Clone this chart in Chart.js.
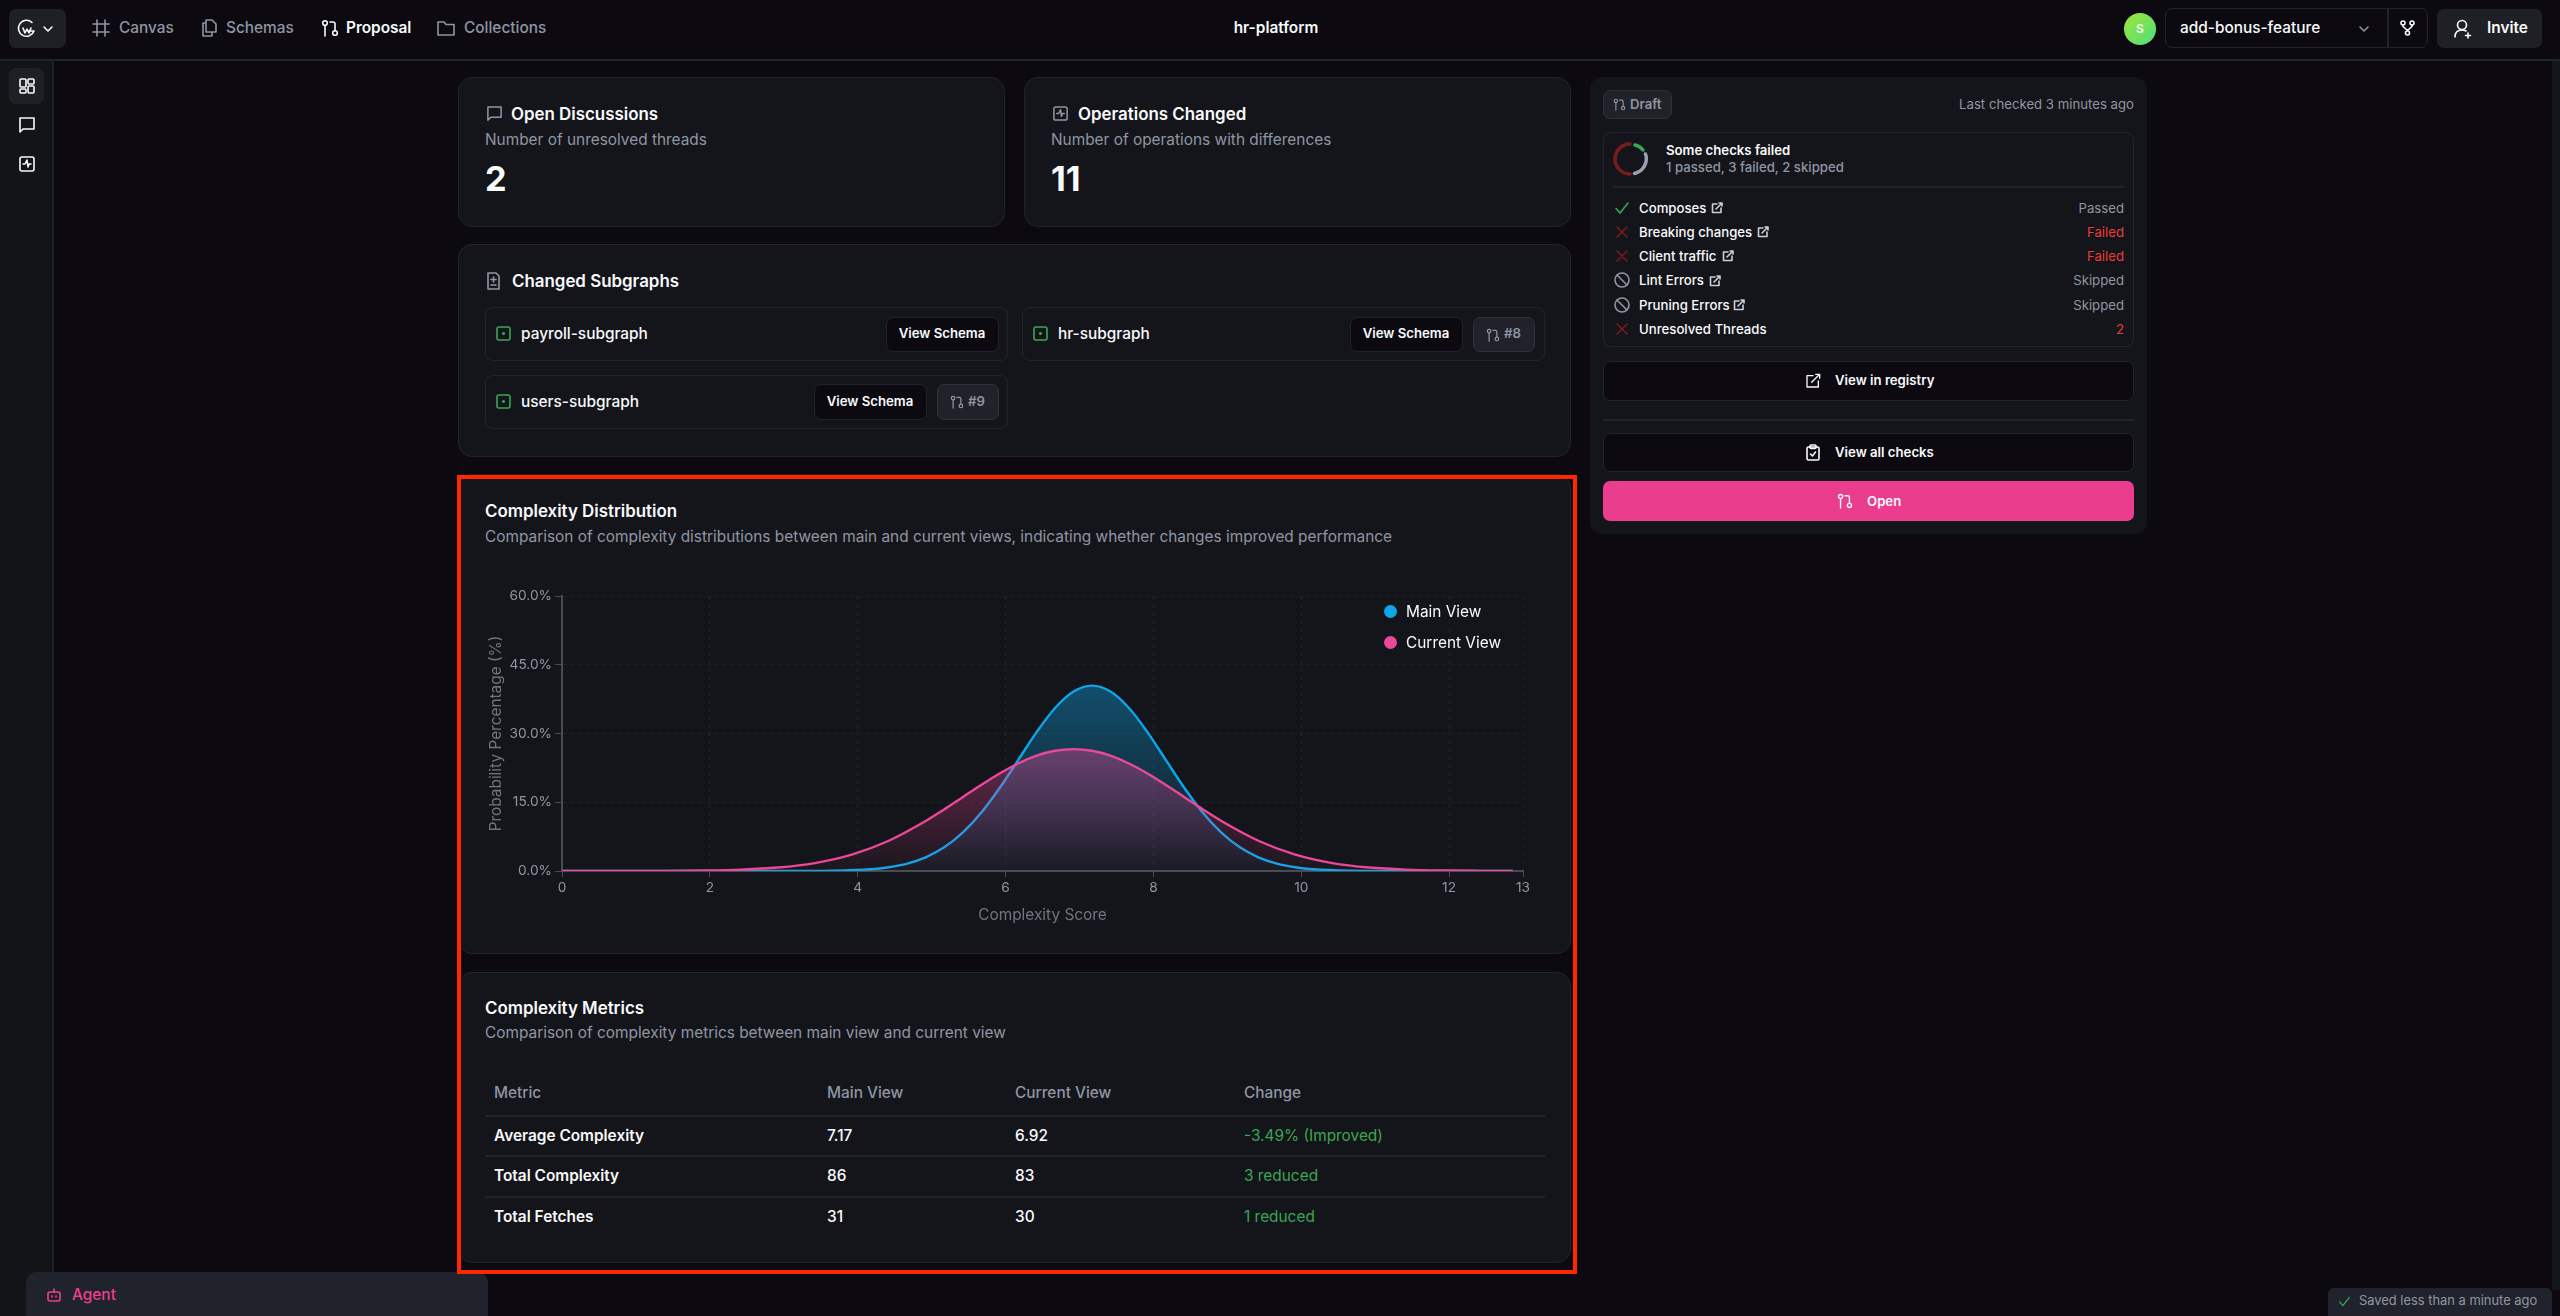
<!DOCTYPE html>
<html>
<head>
<meta charset="utf-8">
<title>hr-platform</title>
<script src="https://cdn.jsdelivr.net/npm/chart.js@4"></script>
<style>
  html, body { margin: 0; padding: 0; background: #0c0a10; }
  body { width: 2560px; height: 1316px; position: relative; overflow: hidden; font-family: Inter, sans-serif; color: #f8fafc; font-size: 15.4px; }
  .abs { position: absolute; }
  .t { position: absolute; white-space: nowrap; transform: translateY(-50%); line-height: 1.2; }
  .r { transform: translate(-100%, -50%); }
  .c { transform: translate(-50%, -50%); }
  .card { position: absolute; background: #14151a; border: 1.5px solid #1e2530; border-radius: 14px; box-sizing: border-box; }
  .box { position: absolute; border: 1.5px solid #1e2530; border-radius: 8px; box-sizing: border-box; }
  .btn { position: absolute; background: #0c0a10; border: 1.5px solid #1e2530; border-radius: 7px; box-sizing: border-box; }
  .badge { position: absolute; background: #212229; border: 1.5px solid #2f3038; border-radius: 7px; box-sizing: border-box; }
  .line { position: absolute; height: 1.5px; background: #1e2530; }
  .b6 { font-weight: 600; }
  .b5 { font-weight: 500; }
  .muted { color: #8f95a3; }
  .h { font-size: 16.9px; font-weight: 600; }
  .sm { font-size: 13.2px; margin-top: 1px; }
  .fail { color: #ef3a3a; }
  .ok { color: #3aa655; }
  svg { position: absolute; fill: none; stroke: currentColor; stroke-width: 1.6; stroke-linecap: round; stroke-linejoin: round; }
</style>
</head>
<body>

<!-- top bar and side rail -->
<div class="abs" style="left:0;top:60px;width:52px;height:1256px;background:#131418"></div>
<div class="abs" style="left:2552px;top:60px;width:8px;height:1230px;background:#15151c"></div>
<div class="abs" style="left:0;top:59px;width:2560px;height:1.5px;background:#1e2530"></div>
<div class="abs" style="left:52px;top:59px;width:1.5px;height:1257px;background:#1a1f29"></div>
<div class="abs" style="left:9px;top:9px;width:57px;height:39px;background:#1f2026;border-radius:7px"></div>
<svg style="left:16px;top:18px;color:#f8fafc" width="21" height="21" viewBox="0 0 21 21"><path d="M16 4.5A8 8 0 1 0 18 13h-6"/><path d="M7 10l2 5 2-4 2 4 2-5"/></svg>
<svg style="left:42px;top:24px;color:#f8fafc" width="12" height="10" viewBox="0 0 12 10"><path d="M2 3l4 4 4-4"/></svg>

<svg style="left:92px;top:19px;color:#8f95a3" width="18" height="18" viewBox="0 0 18 18"><path d="M5 1v16M13 1v16M1 5h16M1 13h16"/></svg>
<div class="t b5 muted" style="left:119px;top:28px">Canvas</div>
<svg style="left:200px;top:19px;color:#8f95a3" width="18" height="18" viewBox="0 0 18 18"><path d="M6 1h6l4 4v8H6zM6 4H3v13h9v-4"/></svg>
<div class="t b5 muted" style="left:226px;top:28px">Schemas</div>
<svg style="left:321px;top:19px;color:#f8fafc" width="18" height="18" viewBox="0 0 18 18"><circle cx="4" cy="4" r="2.3"/><circle cx="14" cy="14" r="2.3"/><path d="M4 6.5V17M9 3h3a2 2 0 0 1 2 2v6.5"/></svg>
<div class="t b6" style="left:346px;top:28px">Proposal</div>
<svg style="left:437px;top:19px;color:#8f95a3" width="18" height="18" viewBox="0 0 18 18"><path d="M1 3h6l2 2.5h8V16H1z"/></svg>
<div class="t b5 muted" style="left:464px;top:28px">Collections</div>

<div class="t c b6" style="left:1276px;top:28px">hr-platform</div>

<div class="abs" style="left:2124px;top:13px;width:32px;height:32px;border-radius:50%;background:linear-gradient(135deg,#a3e635,#4ade80)"></div>
<div class="t c b6" style="left:2140px;top:29px;font-size:12px;color:#f8fafc">S</div>
<div class="btn" style="left:2165px;top:8px;width:263px;height:40px;background:transparent"></div>
<div class="abs" style="left:2387px;top:8px;width:1.5px;height:40px;background:#1e2530"></div>
<div class="t b5" style="left:2180px;top:28px">add-bonus-feature</div>
<svg style="left:2358px;top:24px;color:#8f95a3" width="12" height="10" viewBox="0 0 12 10"><path d="M2 3l4 4 4-4"/></svg>
<svg style="left:2399px;top:19px;color:#f8fafc" width="17" height="18" viewBox="0 0 17 18"><circle cx="4" cy="4" r="2"/><circle cx="13" cy="4" r="2"/><circle cx="8.5" cy="14" r="2"/><path d="M4 6v1.5l4.5 4M13 6v1.5l-4.500 4"/></svg>
<div class="abs" style="left:2437px;top:9px;width:105px;height:39px;background:#1f2026;border-radius:7px"></div>
<svg style="left:2453px;top:18px;color:#f8fafc" width="20" height="21" viewBox="0 0 20 21"><circle cx="9" cy="7" r="4.500"/><path d="M2 19c0-5 3-7 7-7 1.500 0 3 .3 4 1M15 15v5M12.500 17.500h5"/></svg>
<div class="t b6" style="left:2487px;top:28px">Invite</div>

<!-- side icons -->
<div class="abs" style="left:9px;top:68px;width:35px;height:36px;background:#1f2026;border-radius:7px"></div>
<svg style="left:18px;top:77px;color:#f8fafc" width="18" height="18" viewBox="0 0 18 18"><rect x="2" y="2" width="6" height="8" rx="1"/><rect x="10" y="2" width="6" height="5" rx="1"/><rect x="2" y="12" width="6" height="4" rx="1"/><rect x="10" y="9" width="6" height="7" rx="1"/></svg>
<svg style="left:18px;top:116px;color:#f8fafc" width="18" height="18" viewBox="0 0 18 18"><path d="M2 2h14v11H5l-3 3z"/></svg>
<svg style="left:18px;top:155px;color:#f8fafc" width="18" height="18" viewBox="0 0 18 18"><rect x="2" y="2" width="14" height="14" rx="2"/><path d="M5 9h2l2-4 1 7 1-3h2"/></svg>

<!-- stat cards -->
<div class="card" style="left:458px;top:77px;width:547px;height:150px"></div>
<svg style="left:486px;top:105px;color:#8f95a3" width="17" height="17" viewBox="0 0 18 18"><path d="M2 2h14v11H5l-3 3z"/></svg>
<div class="t h" style="left:511px;top:114px">Open Discussions</div>
<div class="t muted" style="left:485px;top:140px">Number of unresolved threads</div>
<div class="t" style="left:485px;top:179px;font-size:34.3px;font-weight:700">2</div>

<div class="card" style="left:1024px;top:77px;width:547px;height:150px"></div>
<svg style="left:1052px;top:105px;color:#8f95a3" width="17" height="17" viewBox="0 0 18 18"><rect x="2" y="2" width="14" height="14" rx="2"/><path d="M5 9h2l2-4 1 7 1-3h2"/></svg>
<div class="t h" style="left:1078px;top:114px">Operations Changed</div>
<div class="t muted" style="left:1051px;top:140px">Number of operations with differences</div>
<div class="t" style="left:1051px;top:179px;font-size:34.3px;font-weight:700">11</div>

<!-- changed subgraphs -->
<div class="card" style="left:458px;top:244px;width:1113px;height:213px"></div>
<svg style="left:485px;top:272px;color:#8f95a3" width="17" height="18" viewBox="0 0 17 18"><path d="M3 1h8l3 3v13H3zM8.500 5v5M6 7.500h5M6 13h5"/></svg>
<div class="t h" style="left:512px;top:281px">Changed Subgraphs</div>

<div class="box" style="left:485px;top:307px;width:523px;height:54px"></div>
<svg class="ok" style="left:496px;top:326px" width="15" height="15" viewBox="0 0 15 15"><rect x="1" y="1" width="13" height="13" rx="2"/><circle cx="7.500" cy="7.500" r=".8"/></svg>
<div class="t b5" style="left:521px;top:334px">payroll-subgraph</div>
<div class="btn" style="left:886px;top:317px;width:113px;height:35px"></div>
<div class="t c b6 sm" style="left:942px;top:333px">View Schema</div>

<div class="box" style="left:1022px;top:307px;width:523px;height:54px"></div>
<svg class="ok" style="left:1033px;top:326px" width="15" height="15" viewBox="0 0 15 15"><rect x="1" y="1" width="13" height="13" rx="2"/><circle cx="7.500" cy="7.500" r=".8"/></svg>
<div class="t b5" style="left:1058px;top:334px">hr-subgraph</div>
<div class="btn" style="left:1350px;top:317px;width:113px;height:35px"></div>
<div class="t c b6 sm" style="left:1406px;top:333px">View Schema</div>
<div class="badge" style="left:1473px;top:317px;width:62px;height:35px"></div>
<svg style="left:1486px;top:328px;color:#8f95a3" width="14" height="14" viewBox="0 0 18 18"><circle cx="4" cy="4" r="2.300"/><circle cx="14" cy="14" r="2.300"/><path d="M4 6.500V17M9 3h3a2 2 0 0 1 2 2v6.500"/></svg>
<div class="t b6 sm muted" style="left:1504px;top:333px">#8</div>

<div class="box" style="left:485px;top:375px;width:523px;height:54px"></div>
<svg class="ok" style="left:496px;top:394px" width="15" height="15" viewBox="0 0 15 15"><rect x="1" y="1" width="13" height="13" rx="2"/><circle cx="7.500" cy="7.500" r=".8"/></svg>
<div class="t b5" style="left:521px;top:402px">users-subgraph</div>
<div class="btn" style="left:814px;top:384px;width:113px;height:36px"></div>
<div class="t c b6 sm" style="left:870px;top:401px">View Schema</div>
<div class="badge" style="left:937px;top:384px;width:62px;height:36px"></div>
<svg style="left:950px;top:395px;color:#8f95a3" width="14" height="14" viewBox="0 0 18 18"><circle cx="4" cy="4" r="2.300"/><circle cx="14" cy="14" r="2.300"/><path d="M4 6.500V17M9 3h3a2 2 0 0 1 2 2v6.500"/></svg>
<div class="t b6 sm muted" style="left:968px;top:401px">#9</div>

<!-- complexity distribution -->
<div class="card" style="left:458px;top:474px;width:1113px;height:480px"></div>
<div class="t h" style="left:485px;top:511px">Complexity Distribution</div>
<div class="t muted" style="left:485px;top:537px">Comparison of complexity distributions between main and current views, indicating whether changes improved performance</div>
<div class="abs" style="left:470px;top:575px;width:1090px;height:360px"><canvas id="complexityChart"></canvas></div>
<div id="legend"></div>

<!-- complexity metrics -->
<div class="card" style="left:458px;top:972px;width:1113px;height:291px"></div>
<div class="t h" style="left:485px;top:1008px">Complexity Metrics</div>
<div class="t muted" style="left:485px;top:1033px">Comparison of complexity metrics between main view and current view</div>
<div class="t b5 muted" style="left:494px;top:1093px">Metric</div>
<div class="t b5 muted" style="left:827px;top:1093px">Main View</div>
<div class="t b5 muted" style="left:1015px;top:1093px">Current View</div>
<div class="t b5 muted" style="left:1244px;top:1093px">Change</div>
<div class="line" style="left:485px;top:1115px;width:1060px"></div>
<div class="t b6" style="left:494px;top:1136px">Average Complexity</div>
<div class="t b5" style="left:827px;top:1136px">7.17</div>
<div class="t b5" style="left:1015px;top:1136px">6.92</div>
<div class="t ok" style="left:1244px;top:1136px">-3.49% (Improved)</div>
<div class="line" style="left:485px;top:1155px;width:1060px"></div>
<div class="t b6" style="left:494px;top:1176px">Total Complexity</div>
<div class="t b5" style="left:827px;top:1176px">86</div>
<div class="t b5" style="left:1015px;top:1176px">83</div>
<div class="t ok" style="left:1244px;top:1176px">3 reduced</div>
<div class="line" style="left:485px;top:1196px;width:1060px"></div>
<div class="t b6" style="left:494px;top:1217px">Total Fetches</div>
<div class="t b5" style="left:827px;top:1217px">31</div>
<div class="t b5" style="left:1015px;top:1217px">30</div>
<div class="t ok" style="left:1244px;top:1217px">1 reduced</div>

<!-- checks panel -->
<div class="abs" style="left:1590px;top:77px;width:557px;height:457px;background:#14151a;border-radius:12px"></div>
<div class="badge" style="left:1603px;top:90px;width:69px;height:29px"></div>
<svg style="left:1613px;top:98px;color:#8f95a3" width="13" height="13" viewBox="0 0 18 18"><circle cx="4" cy="4" r="2.300"/><circle cx="14" cy="14" r="2.300"/><path d="M4 6.500V17M9 3h3a2 2 0 0 1 2 2v6.500"/></svg>
<div class="t b6 sm muted" style="left:1630px;top:104px">Draft</div>
<div class="t r sm muted" style="left:2134px;top:104px">Last checked 3 minutes ago</div>
<div class="box" style="left:1603px;top:132px;width:531px;height:215px"></div>
<svg style="left:1613px;top:141px;stroke-width:3.5" width="36" height="36" viewBox="0 0 36 36"><path d="M22 4a15 15 0 0 1 8 5" stroke="#3aa655"/><path d="M32.500 13a15 15 0 0 1-11 19.500" stroke="#9aa0ad"/><path d="M17 33A15 15 0 0 1 17 3" stroke="#7a1c1f"/></svg>
<div class="t b6 sm" style="left:1666px;top:150px">Some checks failed</div>
<div class="t sm muted b5" style="left:1666px;top:167px">1 passed, 3 failed, 2 skipped</div>
<div class="line" style="left:1613px;top:186px;width:511px"></div>

<svg class="ok" style="left:1614px;top:200px" width="16" height="16" viewBox="0 0 16 16"><path d="M2 8.500l4 4.500 8-10"/></svg>
<div class="t sm b5" style="left:1639px;top:208px">Composes</div>
<svg style="left:1711px;top:202px;color:#cbd0d8" width="12" height="12" viewBox="0 0 12 12"><path d="M6 2H1.500v8.500H10V6M5 7l6-6M8 1h3v3"/></svg>
<div class="t r sm muted" style="left:2124px;top:208px">Passed</div>
<svg style="left:1614px;top:224px;color:#7a1c1f" width="16" height="16" viewBox="0 0 16 16"><path d="M3 3l10 10M13 3L3 13"/></svg>
<div class="t sm b5" style="left:1639px;top:232px">Breaking changes</div>
<svg style="left:1757px;top:226px;color:#cbd0d8" width="12" height="12" viewBox="0 0 12 12"><path d="M6 2H1.500v8.500H10V6M5 7l6-6M8 1h3v3"/></svg>
<div class="t r sm fail" style="left:2124px;top:232px">Failed</div>
<svg style="left:1614px;top:248px;color:#7a1c1f" width="16" height="16" viewBox="0 0 16 16"><path d="M3 3l10 10M13 3L3 13"/></svg>
<div class="t sm b5" style="left:1639px;top:256px">Client traffic</div>
<svg style="left:1722px;top:250px;color:#cbd0d8" width="12" height="12" viewBox="0 0 12 12"><path d="M6 2H1.500v8.500H10V6M5 7l6-6M8 1h3v3"/></svg>
<div class="t r sm fail" style="left:2124px;top:256px">Failed</div>
<svg style="left:1614px;top:272px;color:#8f95a3" width="16" height="16" viewBox="0 0 16 16"><circle cx="8" cy="8" r="7"/><path d="M3 3l10 10"/></svg>
<div class="t sm b5" style="left:1639px;top:280px">Lint Errors</div>
<svg style="left:1709px;top:275px;color:#cbd0d8" width="12" height="12" viewBox="0 0 12 12"><path d="M6 2H1.500v8.500H10V6M5 7l6-6M8 1h3v3"/></svg>
<div class="t r sm muted" style="left:2124px;top:280px">Skipped</div>
<svg style="left:1614px;top:297px;color:#8f95a3" width="16" height="16" viewBox="0 0 16 16"><circle cx="8" cy="8" r="7"/><path d="M3 3l10 10"/></svg>
<div class="t sm b5" style="left:1639px;top:305px">Pruning Errors</div>
<svg style="left:1733px;top:299px;color:#cbd0d8" width="12" height="12" viewBox="0 0 12 12"><path d="M6 2H1.500v8.500H10V6M5 7l6-6M8 1h3v3"/></svg>
<div class="t r sm muted" style="left:2124px;top:305px">Skipped</div>
<svg style="left:1614px;top:321px;color:#7a1c1f" width="16" height="16" viewBox="0 0 16 16"><path d="M3 3l10 10M13 3L3 13"/></svg>
<div class="t sm b5" style="left:1639px;top:329px">Unresolved Threads</div>
<div class="t r sm fail" style="left:2124px;top:329px">2</div>

<div class="btn" style="left:1603px;top:361px;width:531px;height:40px"></div>
<svg style="left:1805px;top:373px;color:#f8fafc;stroke-width:1" width="16" height="16" viewBox="0 0 12 12"><path d="M6 2H1.500v8.500H10V6M5 7l6-6M8 1h3v3"/></svg>
<div class="t sm b6" style="left:1835px;top:380px">View in registry</div>
<div class="line" style="left:1603px;top:419px;width:531px"></div>
<div class="btn" style="left:1603px;top:433px;width:531px;height:39px"></div>
<svg style="left:1805px;top:444px;color:#f8fafc" width="16" height="17" viewBox="0 0 16 17"><rect x="2" y="3" width="12" height="13" rx="1.500"/><rect x="5" y="1" width="6" height="3.500" rx="1"/><path d="M5.500 10l2 2 3-4"/></svg>
<div class="t sm b6" style="left:1835px;top:452px">View all checks</div>
<div class="abs" style="left:1603px;top:481px;width:531px;height:40px;background:#ea3d8e;border-radius:7px"></div>
<svg style="left:1837px;top:493px;color:#f8fafc" width="16" height="16" viewBox="0 0 18 18"><circle cx="4" cy="4" r="2.300"/><circle cx="14" cy="14" r="2.300"/><path d="M4 6.500V17M9 3h3a2 2 0 0 1 2 2v6.500"/></svg>
<div class="t sm b6" style="left:1867px;top:501px">Open</div>

<!-- bottom bits -->
<div class="abs" style="left:26px;top:1272px;width:462px;height:50px;background:#20232b;border-radius:10px 10px 0 0"></div>
<svg style="left:46px;top:1287px;color:#ec3f8f" width="16" height="16" viewBox="0 0 16 16"><rect x="2" y="5" width="12" height="9" rx="2"/><path d="M8 5V2M6 9v1M10 9v1"/></svg>
<div class="t b5" style="left:72px;top:1295px;color:#ec3f8f">Agent</div>
<div class="abs" style="left:2328px;top:1288px;width:224px;height:30px;background:#20232b;border-radius:6px 6px 0 0"></div>
<svg class="ok" style="left:2338px;top:1295px" width="13" height="13" viewBox="0 0 16 16"><path d="M2 8.500l4 4.500 8-10"/></svg>
<div class="t muted" style="left:2359px;top:1301px;font-size:12.9px">Saved less than a minute ago</div>

<!-- red highlight frame from the source screenshot -->
<div class="abs" style="left:457px;top:475px;width:1120px;height:799px;border:4px solid #ff2600;box-sizing:border-box"></div>

<script>
// values
const mainX = [0, 2.17, 3.17, 3.67, 4.17, 4.42, 4.67, 4.92, 5.17, 5.42, 5.67, 5.92, 6.17, 6.42, 6.67, 6.92, 7.17, 7.42, 7.67, 7.92, 8.17, 8.42, 8.67, 8.92, 9.17, 9.42, 9.67, 9.92, 10.17, 10.67, 11.17, 12.86];
const mainY = [0, 0, 0.01, 0.07, 0.39, 0.83, 1.62, 2.99, 5.16, 8.37, 12.71, 18.11, 24.18, 30.29, 35.57, 39.17, 40.45, 39.17, 35.57, 30.29, 24.18, 18.11, 12.71, 8.37, 5.16, 2.99, 1.62, 0.83, 0.39, 0.07, 0.01, 0];
const currentX = [0, 1.42, 1.92, 2.42, 2.92, 3.42, 3.92, 4.42, 4.92, 5.17, 5.42, 5.67, 5.92, 6.17, 6.42, 6.67, 6.92, 7.17, 7.42, 7.67, 7.92, 8.17, 8.42, 8.67, 8.92, 9.42, 9.92, 10.42, 10.92, 11.42, 11.92, 12.42, 12.86];
const currentY = [0, 0.03, 0.10, 0.29, 0.75, 1.73, 3.57, 6.60, 10.90, 13.43, 16.10, 18.77, 21.28, 23.46, 25.16, 26.23, 26.60, 26.23, 25.16, 23.46, 21.28, 18.77, 16.10, 13.43, 10.90, 6.60, 3.57, 1.73, 0.75, 0.29, 0.10, 0.03, 0];
const xTicks = [0, 2, 4, 6, 8, 10, 12, 13];
const yTicks = [0, 15, 30, 45, 60];
const seriesNames = ['Main View', 'Current View'];

function toPoints(xs, ys) {
  return xs.map((x, i) => ({ x: x, y: ys[i] }));
}

// vertical gradient from the top of the curve down to the baseline
function areaFill(context, peak, rgb, topAlpha, bottomAlpha) {
  const chart = context.chart;
  if (!chart.chartArea) return 'transparent';
  const yScale = chart.scales.y;
  const g = chart.ctx.createLinearGradient(0, yScale.getPixelForValue(peak), 0, yScale.getPixelForValue(0));
  g.addColorStop(0, `rgba(${rgb}, ${topAlpha})`);
  g.addColorStop(1, `rgba(${rgb}, ${bottomAlpha})`);
  return g;
}

const ctx = document.getElementById('complexityChart').getContext('2d');
const complexityChart = new Chart(ctx, {
  type: 'line',
  data: {
    datasets: [
      {
        label: seriesNames[0],
        data: toPoints(mainX, mainY),
        borderColor: '#0ea5e9',
        borderWidth: 2.4,
        pointRadius: 0,
        cubicInterpolationMode: 'monotone',
        fill: 'origin',
        backgroundColor: c => areaFill(c, 40.45, '14, 165, 233', 0.4, 0.03),
        order: 2
      },
      {
        label: seriesNames[1],
        data: toPoints(currentX, currentY),
        borderColor: '#ec4899',
        borderWidth: 2.4,
        pointRadius: 0,
        cubicInterpolationMode: 'monotone',
        fill: 'origin',
        backgroundColor: c => areaFill(c, 26.6, '236, 72, 153', 0.4, 0.03),
        order: 1
      }
    ]
  },
  options: {
    responsive: true,
    maintainAspectRatio: false,
    animation: false,
    layout: { padding: { top: 21, right: 37, left: 0, bottom: 0 } },
    plugins: { legend: { display: false }, tooltip: { enabled: false } },
    scales: {
      x: {
        type: 'linear',
        min: 0,
        max: 13,
        afterBuildTicks: scale => { scale.ticks = xTicks.map(v => ({ value: v })); },
        afterFit: scale => { scale.height = 64; },
        grid: { color: 'rgba(255, 255, 255, 0.055)', tickColor: '#4a4a52', tickLength: 6, drawTicks: true },
        border: { color: '#4a4a52', width: 2, dash: [4, 4] },
        ticks: { color: '#8f95a3', font: { family: 'Inter', size: 13.7 }, padding: 3, maxRotation: 0, autoSkip: false },
        title: { display: true, text: 'Complexity Score', color: '#6f7480', font: { family: 'Inter', size: 15.4 }, padding: 10 }
      },
      y: {
        min: 0,
        max: 60,
        afterBuildTicks: scale => { scale.ticks = yTicks.map(v => ({ value: v })); },
        afterFit: scale => { scale.width = 92; },
        grid: { color: 'rgba(255, 255, 255, 0.055)', tickColor: '#4a4a52', tickLength: 7, drawTicks: true },
        border: { color: '#4a4a52', width: 2, dash: [4, 4] },
        ticks: { color: '#8f95a3', font: { family: 'Inter', size: 13.7 }, padding: 3, callback: v => v.toFixed(1) + '%' },
        title: { display: true, text: 'Probability Percentage (%)', color: '#6f7480', font: { family: 'Inter', size: 15.4 }, padding: 17 }
      }
    }
  }
});

// legend sits inside the plot, top right
const legendTops = [611, 642];
const legendEl = document.getElementById('legend');
complexityChart.data.datasets.forEach((ds, i) => {
  legendEl.insertAdjacentHTML('beforeend',
    `<div class="abs" style="left:1384px;top:${legendTops[i] - 6.5}px;width:13px;height:13px;border-radius:50%;background:${ds.borderColor}"></div>` +
    `<div class="t" style="left:1406px;top:${legendTops[i] + 1}px">${ds.label}</div>`);
});
</script>
</body>
</html>
